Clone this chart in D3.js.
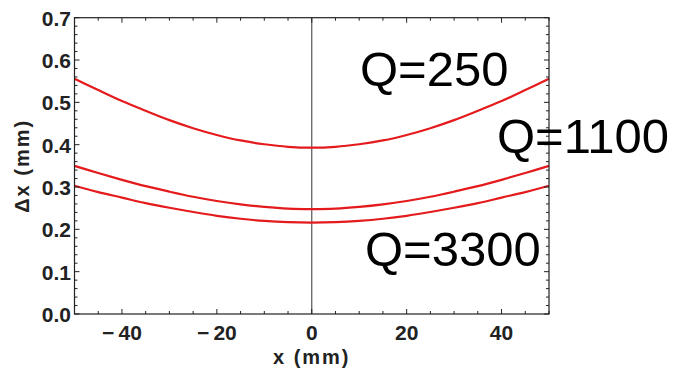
<!DOCTYPE html>
<html>
<head>
<meta charset="utf-8">
<script src="https://cdn.jsdelivr.net/npm/d3@7"></script>
<style>
  html, body { margin: 0; padding: 0; background: #fff; }
  svg { display: block; }
</style>
</head>
<body>
<svg id="chart" width="682" height="376"></svg>
<script>
// Beam spread Δx (mm) across the transverse position x (mm) for three Q values
const xPositions = [-50, -45, -40, -35, -30, -25, -20, -15, -10, -5, 0, 5, 10, 15, 20, 25, 30, 35, 40, 45, 50];
const q250  = [0.556, 0.529, 0.503, 0.480, 0.458, 0.439, 0.423, 0.410, 0.401, 0.395, 0.393, 0.395, 0.401, 0.410, 0.423, 0.439, 0.458, 0.480, 0.503, 0.529, 0.556];
const q1100 = [0.350, 0.333, 0.317, 0.302, 0.289, 0.277, 0.267, 0.259, 0.253, 0.249, 0.248, 0.249, 0.253, 0.259, 0.267, 0.277, 0.289, 0.302, 0.317, 0.333, 0.350];
const q3300 = [0.303, 0.288, 0.275, 0.262, 0.251, 0.241, 0.232, 0.225, 0.220, 0.217, 0.216, 0.217, 0.220, 0.225, 0.232, 0.241, 0.251, 0.262, 0.275, 0.288, 0.303];
const seriesLabels = ["Q=250", "Q=1100", "Q=3300"];

const xMajorTicks = [-40, -20, 0, 20, 40];
const yMajorTicks = [0.0, 0.1, 0.2, 0.3, 0.4, 0.5, 0.6, 0.7];

const svg = d3.select("#chart");
const plot = { left: 74.5, right: 549, top: 17.7, bottom: 314 };

const x = d3.scaleLinear().domain([-50, 50]).range([plot.left, plot.right]);
const y = d3.scaleLinear().domain([0, 0.7]).range([plot.bottom, plot.top]);

const frameColor = "#222";
const labelFont = "'Liberation Sans', Arial, sans-serif";

// Minor tick positions
const xMinor = d3.range(-50, 50.001, 5).filter(v => !xMajorTicks.includes(v));
const yMinor = d3.range(0, 0.7001, 0.02).map(v => +v.toFixed(2)).filter(v => !yMajorTicks.some(t => Math.abs(t - v) < 1e-9));

// Vertical reference line at x = 0
svg.append("line")
  .attr("x1", x(0)).attr("x2", x(0))
  .attr("y1", plot.top).attr("y2", plot.bottom)
  .attr("stroke", "#555").attr("stroke-width", 1.2);

// Curves
const line = d3.line()
  .x((d, i) => x(xPositions[i]))
  .y(d => y(d))
  .curve(d3.curveCatmullRom.alpha(0.5));

[q250, q1100, q3300].forEach(vals => {
  svg.append("path")
    .datum(vals)
    .attr("d", line)
    .attr("fill", "none")
    .attr("stroke", "#e41a1c")
    .attr("stroke-width", 2.2);
});

// Inward ticks on all four sides
function ticksX(g, vals, len, atY, dir) {
  g.selectAll(null).data(vals).enter().append("line")
    .attr("x1", d => x(d)).attr("x2", d => x(d))
    .attr("y1", atY).attr("y2", atY + dir * len)
    .attr("stroke", frameColor).attr("stroke-width", 1);
}
function ticksY(g, vals, len, atX, dir) {
  g.selectAll(null).data(vals).enter().append("line")
    .attr("y1", d => y(d)).attr("y2", d => y(d))
    .attr("x1", atX).attr("x2", atX + dir * len)
    .attr("stroke", frameColor).attr("stroke-width", 1);
}
const tg = svg.append("g");
ticksX(tg, xMajorTicks, 5, plot.bottom, -1);
ticksX(tg, xMinor, 3, plot.bottom, -1);
ticksX(tg, xMajorTicks, 5, plot.top, 1);
ticksX(tg, xMinor, 3, plot.top, 1);
ticksY(tg, yMajorTicks, 5, plot.left, 1);
ticksY(tg, yMinor, 3, plot.left, 1);
ticksY(tg, yMajorTicks, 5, plot.right, -1);
ticksY(tg, yMinor, 3, plot.right, -1);

// Frame
svg.append("rect")
  .attr("x", plot.left).attr("y", plot.top)
  .attr("width", plot.right - plot.left).attr("height", plot.bottom - plot.top)
  .attr("fill", "none").attr("stroke", frameColor).attr("stroke-width", 1.2);

// Tick labels
svg.append("g").selectAll("text").data(xMajorTicks).enter().append("text")
  .attr("x", d => x(d)).attr("y", 340)
  .attr("text-anchor", "middle")
  .attr("font-family", labelFont).attr("font-size", 21).attr("font-weight", "bold")
  .attr("fill", "#222")
  .text(d => d < 0 ? "\u2212\u2009" + Math.abs(d) : d);

svg.append("g").selectAll("text").data(yMajorTicks).enter().append("text")
  .attr("x", 71).attr("y", d => y(d) + 8)
  .attr("text-anchor", "end")
  .attr("font-family", labelFont).attr("font-size", 21).attr("font-weight", "bold")
  .attr("fill", "#222")
  .text(d => d.toFixed(1));

// Axis titles
svg.append("text")
  .attr("x", x(0)).attr("y", 364)
  .attr("text-anchor", "middle")
  .attr("font-family", labelFont).attr("font-size", 20).attr("font-weight", "bold")
  .attr("letter-spacing", 2)
  .attr("fill", "#222")
  .text("x (mm)");

svg.append("text")
  .attr("transform", `translate(29, ${(plot.top + plot.bottom) / 2}) rotate(-90)`)
  .attr("text-anchor", "middle")
  .attr("font-family", labelFont).attr("font-size", 20).attr("font-weight", "bold")
  .attr("letter-spacing", 2)
  .attr("fill", "#222")
  .text("\u0394x (mm)");

// Series annotations
const annPos = [[360, 86], [497, 153], [365, 266]];
svg.append("g").selectAll("text").data(seriesLabels).enter().append("text")
  .attr("x", (d, i) => annPos[i][0]).attr("y", (d, i) => annPos[i][1])
  .attr("font-family", labelFont).attr("font-size", 49)
  .attr("fill", "#000")
  .text(d => d);
</script>
</body>
</html>
